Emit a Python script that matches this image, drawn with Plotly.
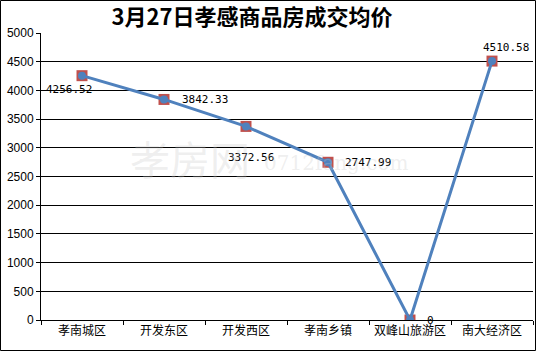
import plotly.graph_objects as go

categories = ["孝南城区", "开发东区", "开发西区", "孝南乡镇", "双峰山旅游区", "南大经济区"]
prices = [4256.52, 3842.33, 3372.56, 2747.99, 0, 4510.58]
labels = ["4256.52", "3842.33", "3372.56", "2747.99", "0", "4510.58"]
y_ticks = [0, 500, 1000, 1500, 2000, 2500, 3000, 3500, 4000, 4500, 5000]

W, H = 537, 352
L, R, T, B = 41, 4, 33, 32
pw, ph = W - L - R, H - T - B

fig = go.Figure()
fig.add_trace(go.Scatter(x=categories, y=prices, mode="markers",
                         marker=dict(symbol="square", size=11, color="#C0504D"),
                         hoverinfo="skip", showlegend=False))
fig.add_trace(go.Scatter(x=categories, y=prices, mode="lines+markers",
                         line=dict(color="#4F81BD", width=3),
                         marker=dict(symbol="circle", size=8, color="#4F81BD"),
                         showlegend=False))

# label offsets (pixels) per point
offs = [(-13, -14, "center"), (16, 0, "left"), (5, -31, "center"),
        (15, 0, "left"), (15, 0, "left"), (14, 14, "center")]
for c, v, t, (dx, dy, xa) in zip(categories, prices, labels, offs):
    fig.add_annotation(x=c, y=v, text=t, showarrow=False, xshift=dx, yshift=dy,
                       xanchor=xa, yanchor="middle",
                       font=dict(family="DejaVu Sans Mono", size=11, color="#000"))

# watermark
fig.add_annotation(xref="paper", yref="paper", x=(128 - L) / pw, y=1 - (158 - T) / ph,
                   text="孝房网", showarrow=False, xanchor="left", yanchor="middle",
                   font=dict(family="Noto Sans CJK SC", size=40, color="rgba(200,200,200,0.3)"))
fig.add_annotation(xref="paper", yref="paper", x=(262 - L) / pw, y=1 - (163 - T) / ph,
                   text="0712fang.com", showarrow=False, xanchor="left", yanchor="middle",
                   font=dict(family="DejaVu Serif", size=20, color="rgba(200,200,200,0.3)"))

# outer border
fig.add_shape(type="rect", xref="paper", yref="paper",
              x0=(0.5 - L) / pw, x1=(W - 1.5 - L) / pw,
              y0=-(B - 1.5) / ph, y1=1 + (T - 0.5) / ph,
              line=dict(color="black", width=1), fillcolor="rgba(0,0,0,0)", layer="below")

fig.update_layout(
    width=W, height=H,
    margin=dict(l=L, r=R, t=T, b=B, autoexpand=False),
    paper_bgcolor="white", plot_bgcolor="white",
    title=dict(text="<b>3月27日孝感商品房成交均价</b>", x=252 / W, xanchor="center",
               y=1 - 17 / H, yanchor="middle",
               font=dict(family="Noto Sans CJK SC", size=22, color="#000")),
    xaxis=dict(type="category", range=[-0.5, 5.5], showgrid=False, showline=True,
               linecolor="black", linewidth=1, ticks="outside", tickson="boundaries",
               ticklen=4, tickcolor="black", tickangle=0, automargin=False,
               tickfont=dict(family="Noto Sans CJK SC", size=12, color="#000")),
    yaxis=dict(range=[0, 5000], tickvals=y_ticks, showgrid=True, gridcolor="black",
               gridwidth=1, zeroline=False, showline=True, linecolor="black",
               ticks="outside", ticklen=4, tickcolor="black", automargin=False,
               tickfont=dict(family="Liberation Sans", size=12, color="#000")),
)

fig.write_html("out.html")
